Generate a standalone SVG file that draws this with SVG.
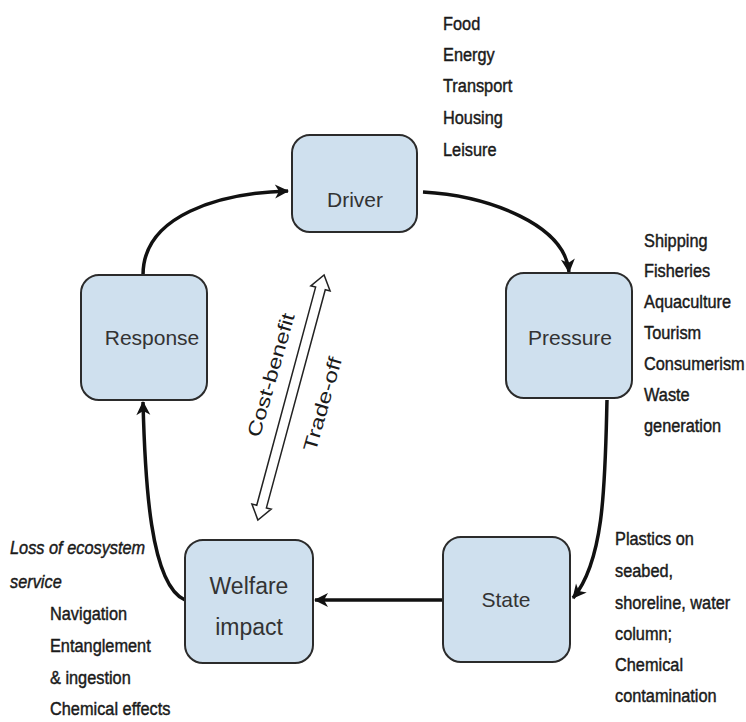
<svg xmlns="http://www.w3.org/2000/svg" width="746" height="722" viewBox="0 0 746 722">
<defs>
<marker id="ah" markerUnits="userSpaceOnUse" markerWidth="16" markerHeight="16" viewBox="0 0 16 16" refX="14" refY="8" orient="auto">
<path d="M1,1 L15,8 L1,15 L5,8 z" fill="#111"/>
</marker>
<style>
.box{fill:#cfe0ee;stroke:#2b2b2b;stroke-width:2}
.lbl{font-family:"Liberation Sans",Arial,sans-serif;font-size:21px;fill:#333;text-anchor:middle}
.lst{font-family:"Liberation Sans",Arial,sans-serif;font-size:19px;fill:#1a1a1a;stroke:#1a1a1a;stroke-width:0.45}
.con{fill:none;stroke:#111;stroke-width:3.5;marker-end:url(#ah)}
.rot{font-family:"Liberation Sans",Arial,sans-serif;font-size:19px;fill:#1a1a1a;text-anchor:middle;dominant-baseline:central}
</style>
</defs>
<rect width="746" height="722" fill="#fff"/>

<g id="connectors">
<path class="con" d="M143,275 C143,215 220,193 288,191"/>
<path class="con" d="M423,192 C490,196 565,225 569,272"/>
<path class="con" d="M607,400 C605,480 605,560 573,598"/>
<path class="con" d="M443,600 L315,600"/>
<path class="con" d="M185,600 C150,585 145,480 143,402"/>
<g id="tradeoff-arrow" transform="translate(291,397.5) rotate(-74.9)">
<polygon points="-127,0 -113,-10 -113,-5 113,-5 113,-10 127,0 113,10 113,5 -113,5 -113,10" fill="#fff" stroke="#222" stroke-width="1.5" stroke-linejoin="miter"/>
</g>
<text class="rot" transform="translate(271,375) rotate(-74)" textLength="128" lengthAdjust="spacingAndGlyphs">Cost-benefit</text>
<text class="rot" transform="translate(322.5,404) rotate(-74)" textLength="97" lengthAdjust="spacingAndGlyphs">Trade-off</text>
</g>

<g id="driver">
<rect class="box" x="292" y="135" width="125" height="97" rx="18"/>
<text class="lbl" x="355" y="207">Driver</text>
</g>
<g id="pressure">
<rect class="box" x="506" y="273" width="126" height="125" rx="18"/>
<text class="lbl" x="570" y="345">Pressure</text>
</g>
<g id="state">
<rect class="box" x="443" y="537" width="127" height="125" rx="18"/>
<text class="lbl" x="506" y="607">State</text>
</g>
<g id="welfare">
<rect class="box" x="185" y="540" width="128" height="123" rx="18"/>
<text class="lbl" x="249" y="594" style="font-size:23px">Welfare</text>
<text class="lbl" x="249" y="635" style="font-size:23px">impact</text>
</g>
<g id="response">
<rect class="box" x="81" y="275" width="126" height="125" rx="18"/>
<text class="lbl" x="152" y="345">Response</text>
</g>

<g id="driver-list" transform="translate(443,0) scale(0.86,1)">
<text class="lst" x="0" y="30">Food</text>
<text class="lst" x="0" y="61">Energy</text>
<text class="lst" x="0" y="92">Transport</text>
<text class="lst" x="0" y="124">Housing</text>
<text class="lst" x="0" y="156">Leisure</text>
</g>
<g id="pressure-list" transform="translate(644,0) scale(0.86,1)">
<text class="lst" x="0" y="247">Shipping</text>
<text class="lst" x="0" y="277">Fisheries</text>
<text class="lst" x="0" y="308">Aquaculture</text>
<text class="lst" x="0" y="339">Tourism</text>
<text class="lst" x="0" y="370">Consumerism</text>
<text class="lst" x="0" y="401">Waste</text>
<text class="lst" x="0" y="432">generation</text>
</g>
<g id="state-list" transform="translate(615,0) scale(0.86,1)">
<text class="lst" x="0" y="545">Plastics on</text>
<text class="lst" x="0" y="577">seabed,</text>
<text class="lst" x="0" y="609">shoreline, water</text>
<text class="lst" x="0" y="640">column;</text>
<text class="lst" x="0" y="671">Chemical</text>
<text class="lst" x="0" y="702">contamination</text>
</g>
<g id="welfare-list" transform="translate(10,0) scale(0.86,1)">
<text class="lst" x="0" y="554" font-style="italic">Loss of ecosystem</text>
<text class="lst" x="0" y="588" font-style="italic">service</text>
<text class="lst" x="46.5" y="620">Navigation</text>
<text class="lst" x="46.5" y="652">Entanglement</text>
<text class="lst" x="46.5" y="684">&amp; ingestion</text>
<text class="lst" x="46.5" y="715">Chemical effects</text>
</g>
</svg>
